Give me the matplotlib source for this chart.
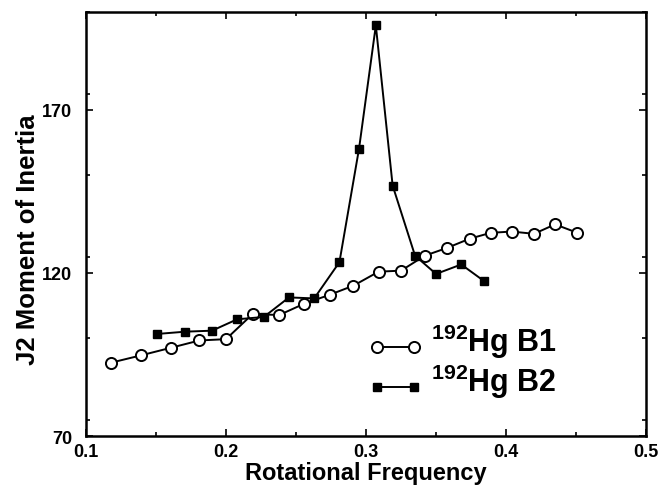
import matplotlib
matplotlib.use("Agg")
import numpy as np
import matplotlib.pyplot as plt
from matplotlib.ticker import MultipleLocator

plt.rcParams['font.family'] = ['Liberation Sans', 'DejaVu Sans']
plt.rcParams['font.weight'] = 'bold'
plt.rcParams['mathtext.fontset'] = 'custom'
plt.rcParams['mathtext.rm'] = 'Liberation Sans:bold'
plt.rcParams['mathtext.bf'] = 'Liberation Sans:bold'
plt.rcParams['mathtext.default'] = 'rm'

b1_freq = [0.118, 0.139, 0.161, 0.181, 0.200, 0.219, 0.238, 0.256, 0.274, 0.291,
           0.309, 0.325, 0.342, 0.358, 0.374, 0.389, 0.404, 0.420, 0.435, 0.451]
b1_moi = [92.5, 94.7, 97.1, 99.3, 99.7, 107.4, 107.1, 110.6, 113.3, 116.1,
          120.4, 120.7, 125.3, 127.7, 130.5, 132.3, 132.7, 132.0, 134.9, 132.3]

b2_freq = [0.151, 0.171, 0.190, 0.208, 0.227, 0.245, 0.263, 0.281, 0.295, 0.307,
           0.319, 0.335, 0.350, 0.368, 0.384]
b2_moi = [101.3, 102.0, 102.3, 105.8, 106.5, 112.5, 112.2, 123.3, 158.1, 195.9,
          146.8, 125.3, 119.7, 122.6, 117.6]

x_ticks = [0.1, 0.2, 0.3, 0.4, 0.5]
x_ticklabels = ['0.1', '0.2', '0.3', '0.4', '0.5']
y_ticks = [70, 120, 170]
y_ticklabels = ['70', '120', '170']

b1_label = r'$^{192}$Hg B1'
b2_label = r'$^{192}$Hg B2'

fig = plt.figure(figsize=(6.64, 4.89), dpi=100)
ax = fig.add_axes([0.1295, 0.1063, 0.8435, 0.867])

ax.plot(b1_freq, b1_moi, color='black', lw=1.4, marker='o', ms=8,
        mfc='white', mec='black', mew=1.4, label=b1_label)
ax.plot(b2_freq, b2_moi, color='black', lw=1.4, marker='s', ms=6,
        mfc='black', mec='black', label=b2_label)

ax.set_xlim(0.1, 0.5)
ax.set_ylim(70, 200)
ax.set_xticks(x_ticks)
ax.set_xticklabels(x_ticklabels)
ax.xaxis.set_minor_locator(MultipleLocator(0.05))
ax.set_yticks(y_ticks)
ax.set_yticklabels(y_ticklabels)
ax.yaxis.set_minor_locator(MultipleLocator(25))
ax.tick_params(which='both', direction='in', top=True, right=True, width=1.2)
ax.tick_params(which='major', length=5, labelsize=13)
ax.tick_params(axis='x', which='major', pad=5)
ax.tick_params(axis='y', which='major', pad=10)
ax.tick_params(which='minor', length=3)
for s in ax.spines.values():
    s.set_linewidth(1.8)

ax.set_xlabel('Rotational Frequency', fontsize=17, fontweight='bold', labelpad=0.5)
ax.set_ylabel('J2 Moment of Inertia', fontsize=18.5, fontweight='bold')
ax.yaxis.set_label_coords(-0.083, 0.465)

leg = ax.legend(loc='center left', bbox_to_anchor=(0.504, 0.178), frameon=False,
                fontsize=22, numpoints=2, handlelength=1.79, handletextpad=0.27,
                labelspacing=0.05, borderpad=0, borderaxespad=0)
for h in leg.legend_handles:
    h.set_ydata(np.asarray(h.get_ydata()) - 5)

fig.savefig('out.png', dpi=100)
